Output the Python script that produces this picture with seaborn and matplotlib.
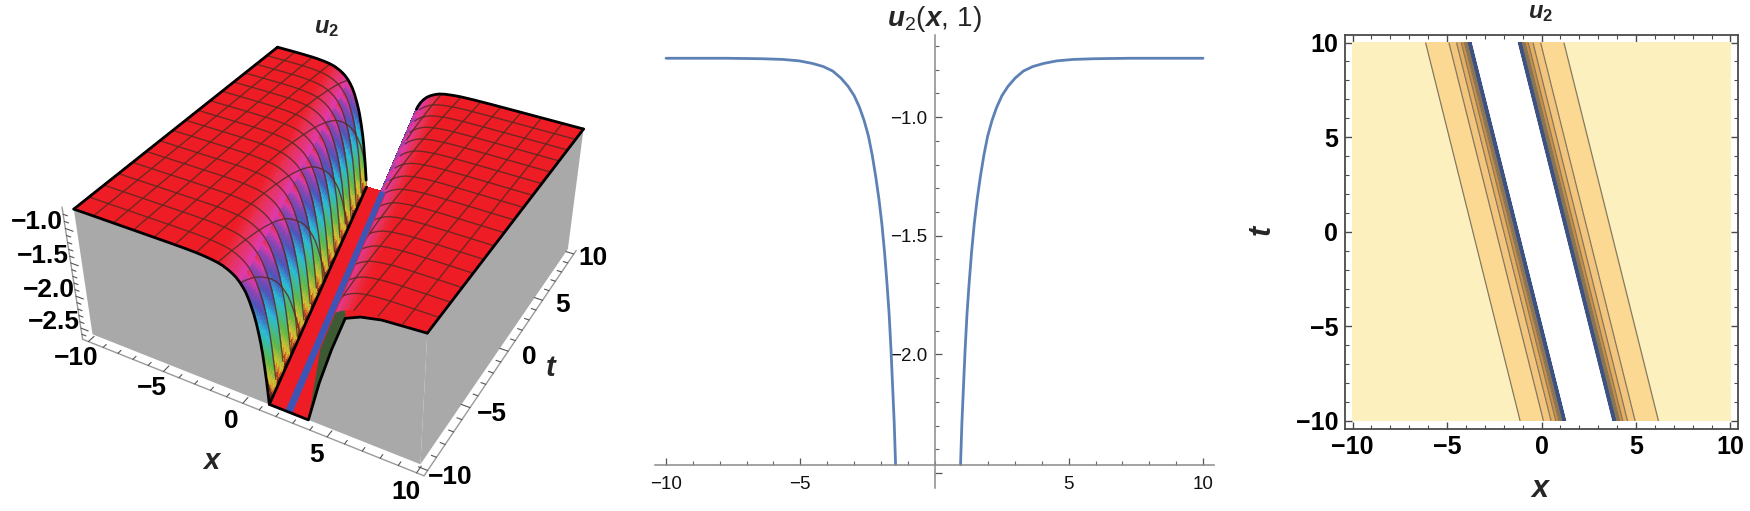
import numpy as np
import matplotlib
matplotlib.use("Agg")
import matplotlib.pyplot as plt
import seaborn as sns
from matplotlib.colors import LinearSegmentedColormap, Normalize, to_rgba
from matplotlib.ticker import FixedLocator, MultipleLocator
from mpl_toolkits.mplot3d import proj3d
from mpl_toolkits.mplot3d.art3d import Poly3DCollection

# u2(x, 1)
x_left = [-1.45, -1.50, -1.55, -1.62, -1.69, -1.77, -1.86, -1.96, -2.07, -2.19, -2.32, -2.46, -2.62, -2.79, -2.99,
          -3.22, -3.49, -3.79, -4.14, -4.54, -5.04, -5.64, -6.44, -7.74, -10.0]
x_right = [0.97, 1.02, 1.07, 1.14, 1.21, 1.29, 1.38, 1.48, 1.59, 1.71, 1.84, 1.98, 2.14, 2.31, 2.51, 2.74, 3.01,
           3.31, 3.66, 4.06, 4.56, 5.16, 5.96, 7.26, 10.0]
u_slice = [-2.464, -2.29, -2.16, -1.98, -1.83, -1.70, -1.57, -1.45, -1.345, -1.25, -1.16, -1.08, -1.015, -0.96,
           -0.91, -0.87, -0.835, -0.806, -0.787, -0.774, -0.763, -0.757, -0.754, -0.752, -0.752]

# profile of the trough: distance from its centre line -> u2
profile_d = [0.0, 1.16, 1.21, 1.26, 1.31, 1.38, 1.45, 1.53, 1.62, 1.72, 1.83, 1.95, 2.08, 2.22, 2.38, 2.55, 2.75,
             2.98, 3.25, 3.55, 3.9, 4.3, 4.8, 5.4, 6.2, 7.5, 14.0]
profile_u = [-2.63, -2.63, -2.45, -2.29, -2.16, -1.98, -1.83, -1.70, -1.57, -1.45, -1.345, -1.25, -1.16, -1.08,
             -1.015, -0.96, -0.91, -0.87, -0.835, -0.806, -0.787, -0.774, -0.763, -0.757, -0.754, -0.752, -0.752]

# centre line of the trough, from the contour panel
center_t = [-10.0, 10.0]
center_x = [2.53, -2.475]

# right-hand rim of the surface where it meets the front grey face
rim_x = [3.69, 4.35, 5.05, 5.8, 6.6, 7.7, 10.0]
rim_z = [-2.63, -2.0, -1.45, -0.94, -0.85, -0.79, -0.752]

contour_levels = [-2.3, -1.8, -1.6, -1.4, -1.2, -1.0, -0.8, -0.7]
contour_colors = ["#3d5282", "#8c7350", "#c98f45", "#e6ae62", "#f3c67f", "#fbd993", "#fdf0bf"]

x_major = [-10, -5, 0, 5, 10]
t_major = [-10, -5, 0, 5, 10]
z_major = [-1.0, -1.5, -2.0, -2.5]
mid_x_major = [-10, -5, 5, 10]
mid_y_major = [-1.0, -1.5, -2.0, -2.5]

height_stops = [-2.63, -2.5, -2.35, -2.05, -1.65, -1.35, -1.1, -0.92, -0.82, -0.78, -0.75]
height_colors = ["#7a1f1a", "#d4572a", "#d8c030", "#5cb84a", "#28bcd8", "#4a55b8", "#8f44b0", "#e03aa8", "#e8304f",
                 "#ee1c25", "#ee1c25"]
band_shift = [-0.14, -0.07, 0.0, 0.07, 0.14, 0.04]

W, H = 1750, 511
RED = "#ee1c25"
GRAY = "#a9a9a9"
LINE_BLUE = "#5e81b5"
FRAME = "#4a4a4a"

sns.set_theme(style="white")
plt.rcParams["font.family"] = ["Liberation Sans", "DejaVu Sans"]
plt.rcParams["mathtext.fontset"] = "custom"
plt.rcParams["mathtext.rm"] = "Liberation Sans"
plt.rcParams["mathtext.it"] = "Liberation Sans:italic"
plt.rcParams["mathtext.bf"] = "Liberation Sans:bold"
plt.rcParams["mathtext.bfit"] = "Liberation Sans:italic:bold"


def px_rect(left, top, right, bottom):
    return [left / W, 1 - bottom / H, (right - left) / W, (bottom - top) / H]


def center(t):
    return np.interp(t, center_t, center_x)


def trough(x, t):
    return np.interp(np.abs(x - center(t)), profile_d, profile_u)


def minus(text):
    return text.replace("-", "\u2212")


def text_at(ax, x, y, z, text, **kw):
    # place a label at a 3D data position, as plain 2D text
    px, py, _ = proj3d.proj_transform(x, y, z, ax.get_proj())
    ax.text2D(px, py, text, transform=ax.transData, ha="center", va="center", **kw)


fig = plt.figure(figsize=(W / 100, H / 100), dpi=100, facecolor="white")

# ---- left: surface ----
ax3 = fig.add_axes(px_rect(97, 0, 571, 474), projection="3d", computed_zorder=False)
ax3.patch.set_visible(False)
ax3.set_axis_off()
ax3.set_proj_type("persp", focal_length=0.5)
ax3.view_init(elev=36, azim=-61)
ax3.set_box_aspect((1, 1, 0.425), zoom=1.136)
x_lo, x_hi = -10.4, 10.4
z_lo, z_hi = -2.68, -0.70
ax3.set_xlim(x_lo, x_hi, view_margin=0)
ax3.set_ylim(x_lo, x_hi, view_margin=0)
ax3.set_zlim(z_lo, z_hi, view_margin=0)
ax3.set_xticks([])
ax3.set_yticks([])
ax3.set_zticks([])

s_abs = np.unique(np.r_[np.linspace(0, 1.16, 6), np.linspace(1.16, 2, 26), np.linspace(2, 4, 20),
                        np.linspace(4, 13, 18)])
s_grid = np.r_[-s_abs[::-1], s_abs[1:]]
t_grid = np.linspace(-10, 10, 97)
S, T = np.meshgrid(s_grid, t_grid)
X = np.clip(center(T) + S, -10, 10)
Z = trough(X, T)

cmap = LinearSegmentedColormap.from_list(
    "height", list(zip(Normalize(-2.63, -0.75)(height_stops), height_colors)))
# colour bands that run down the steep wall
bands = np.array(band_shift)[np.arange(len(t_grid)) % len(band_shift)][:, None]
shade_z = np.where(Z < -0.95, Z + bands, Z)
face = cmap(Normalize(-2.63, -0.75)(shade_z))
far_wall = (S > 0) & (Z < -1.1)
face[far_wall, :3] *= 0.55
face[Z <= -2.62] = to_rgba(RED)
surf = ax3.plot_surface(X, T, Z, facecolors=face, rstride=1, cstride=1, shade=False, linewidth=0.5,
                        antialiased=False, zorder=1)
surf.set_clip_on(False)

# mesh, skipping the hidden far wall of the trough
mesh = np.linspace(-10, 10, 17)
fine = np.linspace(-10, 10, 500)
mesh_kw = dict(color="#5a2a20", lw=1.0, alpha=0.85, zorder=2, clip_on=False)
for m in mesh[1:-1]:
    for xs, ts in [(fine, np.full_like(fine, m)), (np.full_like(fine, m), fine)]:
        zs = trough(xs, ts)
        off = xs - center(ts)
        zs = np.where((zs < -2.6) | ((off > 0) & (zs < -0.95)), np.nan, zs)
        ax3.plot(xs, ts, zs, **mesh_kw)

# flat clipped floor and its centre stripe, kept in view up to the right lip
floor_t = [-10.0, -10.0, -5.0, 10.0, 10.0]
floor_s = [-1.16, 1.16, 0.25, 0.25, -1.16]
floor_xy = np.c_[center(floor_t) + np.array(floor_s), floor_t, np.full(5, -2.63)]
stripe_t = [-10.0, -10.0, 10.0, 10.0]
stripe_s = [-0.2, 0.2, 0.2, -0.2]
stripe_xy = np.c_[center(stripe_t) + np.array(stripe_s), stripe_t, np.full(4, -2.63)]

# the strip between the front rim and the true edge of the surface
rim_fine = np.linspace(rim_x[0], rim_x[-1], 200)
rim_line = np.interp(rim_fine, rim_x, rim_z)
edge_line = trough(rim_fine, np.full_like(rim_fine, -10.0))
strip = np.c_[rim_fine, np.full_like(rim_fine, -10.0), edge_line]
strip_back = np.c_[rim_fine, np.full_like(rim_fine, -10.0), rim_line][::-1]
lower = rim_fine <= rim_x[3]
cap_low = Poly3DCollection([np.r_[strip[lower], strip_back[lower[::-1]]]], facecolors="#3d5a35", edgecolors="none",
                           zorder=2.3)
cap_high = Poly3DCollection([np.r_[strip[~lower], strip_back[~lower[::-1]]]], facecolors=RED, edgecolors="none",
                            zorder=2.3)
floor = Poly3DCollection([floor_xy], facecolors=RED, edgecolors="none", zorder=2.4)
stripe = Poly3DCollection([stripe_xy], facecolors="#3f55b5", edgecolors="none", zorder=2.5)
for part in (cap_low, cap_high, floor, stripe):
    part.set_clip_on(False)
    ax3.add_collection3d(part)

# grey sides
right_x = np.full_like(fine, 10.0)
left_part = fine[fine < center(-10.0) - 1.16]
front_x = np.r_[left_part, center(-10.0) - 1.16, rim_x]
front_z = np.r_[trough(left_part, np.full_like(left_part, -10.0)), -2.63, rim_z]
front_t = np.full_like(front_x, -10.0)
right_z = trough(right_x, fine)
front_wall = np.r_[np.c_[front_x, front_t, front_z], [[10, -10, -2.63], [-10, -10, -2.63]]]
right_wall = np.r_[np.c_[right_x, fine, right_z], [[10, 10, -2.63], [10, -10, -2.63]]]
sides = Poly3DCollection([front_wall, right_wall], facecolors=GRAY, edgecolors="none", zorder=3)
sides.set_clip_on(False)
ax3.add_collection3d(sides)

# outline of the surface
line_kw = dict(color="black", lw=2.0, zorder=4, clip_on=False, solid_capstyle="round")
ax3.plot(front_x, front_t, front_z, **line_kw)
ax3.plot(right_x, fine, right_z, **line_kw)
left_edge = np.full_like(fine, -10.0)
ax3.plot(left_edge, fine, trough(left_edge, fine), **line_kw)
back_l = fine[fine < center(10.0) - 1.16]
back_r = fine[fine > center(10.0) + 2.1]
for part in (back_l, back_r):
    back_t = np.full_like(part, 10.0)
    ax3.plot(part, back_t, trough(part, back_t), **line_kw)
ax3.plot(center(center_t) - 1.16, center_t, [-2.63, -2.63], **line_kw)

# box frame with ticks
frame_kw = dict(color="#9a9a9a", lw=1.0, zorder=5, clip_on=False)
tick_kw = dict(color="#555555", lw=0.8, zorder=5, clip_on=False)
ax3.plot([x_lo, x_hi], [x_lo, x_lo], [z_lo, z_lo], **frame_kw)
ax3.plot([x_hi, x_hi], [x_lo, x_hi], [z_lo, z_lo], **frame_kw)
ax3.plot([x_lo, x_lo], [x_lo, x_lo], [z_lo, z_hi], **frame_kw)
for v in np.arange(-10, 11):
    length = 0.5 if v % 5 == 0 else 0.28
    ax3.plot([v, v], [x_lo, x_lo + length], [z_lo, z_lo], **tick_kw)
    ax3.plot([x_hi - length, x_hi], [v, v], [z_lo, z_lo], **tick_kw)
for v in np.arange(-2.6, -0.75, 0.1):
    length = 0.5 if round(v * 10) % 5 == 0 else 0.28
    ax3.plot([x_lo, x_lo + length], [x_lo, x_lo], [v, v], **tick_kw)

label3 = dict(fontsize=19, fontweight="bold", color="black")
for v in x_major:
    text_at(ax3, v, x_lo - 1.1, z_lo - 0.07, minus(f"{v}"), **label3)
for v in t_major:
    text_at(ax3, x_hi + 1.2, v, z_lo + 0.03, minus(f"{v}"), **label3)
for v in z_major:
    text_at(ax3, x_lo - 1.3, x_lo - 0.6, v + 0.08, minus(f"{v:.1f}"), **label3)
text_at(ax3, 0.6, -14.2, z_lo - 0.1, r"$\mathbfit{x}$", fontsize=21)
text_at(ax3, 12.9, 0, z_lo - 0.02, r"$\mathbfit{t}$", fontsize=21)
fig.text(327 / W, 1 - 28 / H, r"$\mathbfit{u}_{\mathbf{2}}$", fontsize=17, ha="center", va="center")

# ---- middle: the slice at t = 1 ----
ax_mid = fig.add_axes(px_rect(655, 35, 1214, 488))
sns.lineplot(x=x_left, y=u_slice, ax=ax_mid, color=LINE_BLUE, lw=2.0, sort=False, estimator=None)
sns.lineplot(x=x_right, y=u_slice, ax=ax_mid, color=LINE_BLUE, lw=2.0, sort=False, estimator=None)
ax_mid.set_xlim(-10.41, 10.41)
ax_mid.set_ylim(-2.563, -0.654)
ax_mid.patch.set_visible(False)
for name in ["top", "right"]:
    ax_mid.spines[name].set_visible(False)
ax_mid.spines["left"].set_position(("data", 0))
ax_mid.spines["bottom"].set_position(("data", -2.464))
for name in ["left", "bottom"]:
    ax_mid.spines[name].set_color("#8a8a8a")
    ax_mid.spines[name].set_linewidth(1.1)
ax_mid.xaxis.set_major_locator(FixedLocator(mid_x_major))
ax_mid.yaxis.set_major_locator(FixedLocator(mid_y_major))
ax_mid.xaxis.set_minor_locator(MultipleLocator(1))
ax_mid.yaxis.set_minor_locator(MultipleLocator(0.1))
ax_mid.set_xticklabels([minus(f"{v}") for v in mid_x_major])
ax_mid.set_yticklabels([minus(f"{v:.1f}") if v > -2.4 else "" for v in mid_y_major])
ax_mid.tick_params(axis="both", which="major", direction="in", length=5, width=0.9, color="#555555",
                   labelsize=13.5, labelcolor="#111111", bottom=True, left=True)
ax_mid.tick_params(axis="both", which="minor", direction="in", length=3, width=0.8, color="#666666",
                   bottom=True, left=True)
ax_mid.tick_params(axis="x", pad=8)
ax_mid.tick_params(axis="y", pad=5)
fig.text(934 / W, 1 - 19 / H, r"$\mathbfit{u}_{\mathrm{2}}(\mathbfit{x},\,\mathrm{1})$", fontsize=20, ha="center",
         va="center")

# ---- right: contours ----
ax_c = fig.add_axes(px_rect(1345, 35, 1738, 428.5))
cx = np.linspace(-10, 10, 1000)
ct = np.linspace(-10, 10, 1000)
CX, CT = np.meshgrid(cx, ct)
CZ = trough(CX, CT)
ax_c.contourf(CX, CT, CZ, levels=contour_levels, colors=contour_colors)
ax_c.contour(CX, CT, CZ, levels=contour_levels[:1], colors=contour_colors[0], linewidths=1.0, linestyles="solid")
ax_c.contour(CX, CT, CZ, levels=contour_levels[1:-1], colors="#85765c", linewidths=0.9, linestyles="solid")
ax_c.set_xlim(-10.4, 10.4)
ax_c.set_ylim(-10.4, 10.4)
ax_c.set_xticks(x_major)
ax_c.set_yticks(t_major)
ax_c.set_xticklabels([minus(f"{v}") for v in x_major])
ax_c.set_yticklabels([minus(f"{v}") for v in t_major])
ax_c.xaxis.set_minor_locator(MultipleLocator(1))
ax_c.yaxis.set_minor_locator(MultipleLocator(1))
ax_c.tick_params(axis="both", which="major", direction="in", length=5, width=1.0, color=FRAME, labelsize=18,
                 pad=5, top=True, right=True, bottom=True, left=True, labelcolor="black")
ax_c.tick_params(axis="both", which="minor", direction="in", length=3, width=0.8, color=FRAME, top=True, right=True,
                 bottom=True, left=True)
for label in ax_c.get_xticklabels() + ax_c.get_yticklabels():
    label.set_fontweight("bold")
for spine in ax_c.spines.values():
    spine.set_color(FRAME)
    spine.set_linewidth(1.3)
fig.text(1541 / W, 1 - 489 / H, r"$\mathbfit{x}$", fontsize=22, ha="center", va="center")
fig.text(1263 / W, 1 - 230 / H, r"$\mathbfit{t}$", fontsize=22, ha="center", va="center", rotation=90)
fig.text(1541 / W, 1 - 13 / H, r"$\mathbfit{u}_{\mathbf{2}}$", fontsize=17, ha="center", va="center")

fig.savefig("out.png", dpi=100, facecolor="white")
